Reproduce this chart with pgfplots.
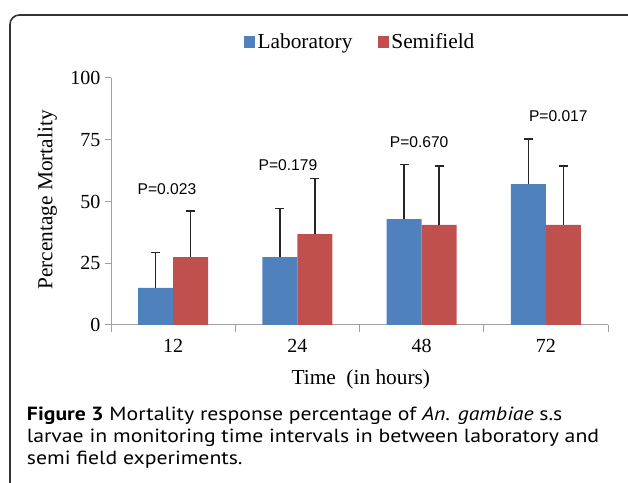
\documentclass[border=0pt]{standalone}
\usepackage{pgfplots}
\pgfplotsset{compat=1.18}
\usepackage{fontspec}
\setmainfont{Liberation Serif}
\newfontfamily\arialf{Liberation Sans}
\newfontfamily\capfont[FakeStretch=1.14]{PT Sans}
\definecolor{labblue}{HTML}{4F81BD}
\definecolor{semired}{HTML}{C0504D}
\definecolor{axgray}{RGB}{160,160,160}
\begin{document}
\begin{tikzpicture}[x=0.75pt,y=0.75pt]
\useasboundingbox (0,0) rectangle (628,482);
\begin{scope}
\clip (0,0) rectangle (628,482);
\draw[line width=1.2pt, black!80, rounded corners=7pt] (10,-40) rectangle (680,467);
\end{scope}
\begin{axis}[
 at={(83.25pt,117.75pt)}, anchor=south west,
 scale only axis, width=372.75pt, height=185.25pt,
 xmin=-0.5, xmax=3.5, ymin=0, ymax=100,
 ybar=0pt, bar width=26.25pt,
 axis x line*=bottom, axis y line*=left,
 axis line style={axgray, line width=0.75pt},
 tick align=outside,
 xtick={0,1,2,3}, xticklabels={12,24,48,72},
 minor xtick={-0.5,0.5,1.5,2.5,3.5},
 major x tick style={draw=none},
 minor x tick style={axgray, line width=0.75pt},
 minor tick length=5.25pt,
 ytick={0,25,50,75,100},
 major y tick style={axgray, line width=0.75pt},
 major tick length=4.5pt,
 tick label style={font=\fontsize{15}{18}\selectfont},
 /pgf/number format/assume math mode=true,
 xticklabel style={yshift=-2.5pt},
 xlabel={Time\ \ (in hours)},
 ylabel={Percentage Mortality},
 label style={font=\fontsize{16}{19}\selectfont},
 xlabel style={at={(axis description cs:0.5026,-0.219)}, anchor=center},
 ylabel style={at={(axis description cs:-0.128,0.506)}, anchor=center},
 legend style={at={(axis description cs:0.502,1.146)}, anchor=center, draw=none, fill=none,
   legend columns=2, font=\fontsize{16}{19}\selectfont,
   /tikz/every even column/.append style={column sep=17pt}},
 legend cell align=left,
 legend image code/.code={\fill[#1] (0pt,-4.7pt) rectangle (8.25pt,4.7pt);},
 clip=false,
]
\addplot[fill=labblue, draw=none,
  error bars/.cd, y dir=plus, y explicit, error mark=|,
  error bar style={line width=1pt, black!85},
  error mark options={mark size=3.4pt, line width=1pt, black!85}]
 coordinates {(0,15.0) +- (0,14.4) (1,27.5) +- (0,19.7) (2,42.9) +- (0,22.1) (3,57.0) +- (0,18.3)};
\addplot[fill=semired, draw=none,
  error bars/.cd, y dir=plus, y explicit, error mark=|,
  error bar style={line width=1pt, black!85},
  error mark options={mark size=3.4pt, line width=1pt, black!85}]
 coordinates {(0,27.5) +- (0,18.7) (1,36.8) +- (0,22.6) (2,40.5) +- (0,23.9) (3,40.5) +- (0,23.9)};
\legend{Laboratory, Semifield}
\node[font=\arialf\fontsize{11.7}{14}\selectfont] at (axis cs:-0.05,55.1) {P=0.023};
\node[font=\arialf\fontsize{11.7}{14}\selectfont] at (axis cs:0.924,64.9) {P=0.179};
\node[font=\arialf\fontsize{11.7}{14}\selectfont] at (axis cs:1.98,74.0) {P=0.670};
\node[font=\arialf\fontsize{11.7}{14}\selectfont] at (axis cs:3.10,84.4) {P=0.017};
\end{axis}
\node[anchor=base west, inner sep=0pt, font=\capfont\fontsize{14.3}{17}\selectfont] at (26.7,62) {\textbf{Figure 3} Mortality response percentage of \textit{An. gambiae} s.s};
\node[anchor=base west, inner sep=0pt, font=\capfont\fontsize{14.3}{17}\selectfont] at (26.7,40) {larvae in monitoring time intervals in between laboratory and};
\node[anchor=base west, inner sep=0pt, font=\capfont\fontsize{14.3}{17}\selectfont] at (26.7,18) {semi field experiments.};
\end{tikzpicture}
\end{document}
